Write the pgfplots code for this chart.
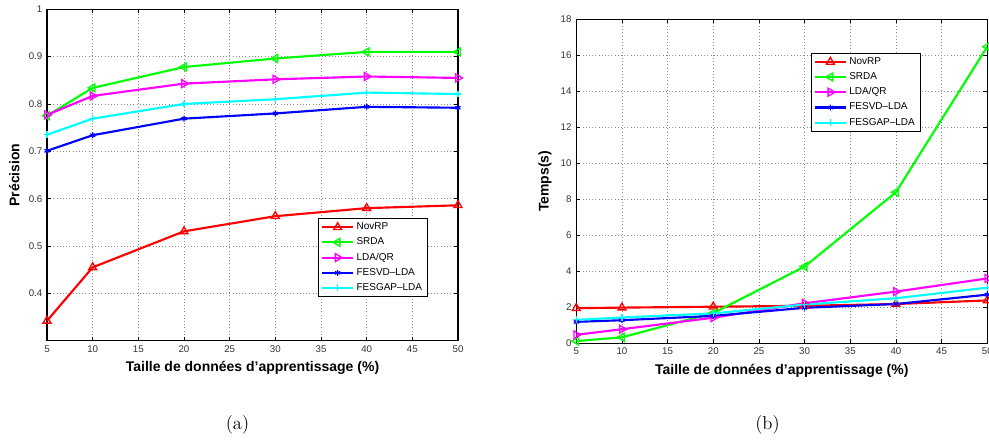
\documentclass[border=0pt]{standalone}
\usepackage{fontspec}
\usepackage{pgfplots}
\usepackage{pgfplotstable}
\pgfplotsset{compat=1.18}
\newfontfamily\hv{Liberation Sans}

\definecolor{mred}{rgb}{1,0,0}
\definecolor{mgreen}{rgb}{0,1,0}
\definecolor{mmagenta}{rgb}{1,0,1}
\definecolor{mblue}{rgb}{0,0,1}
\definecolor{mcyan}{rgb}{0,1,1}

% Precision vs. training size (%)
\pgfplotstableread{
x   NovRP  SRDA   LDAQR  FESVD  FESGAP
5   0.342  0.775  0.777  0.701  0.735
10  0.455  0.834  0.817  0.734  0.769
20  0.531  0.878  0.843  0.769  0.800
30  0.563  0.896  0.852  0.780  0.810
40  0.580  0.910  0.858  0.794  0.824
50  0.586  0.910  0.855  0.792  0.821
}\precisiondata

% Run time (s) vs. training size (%)
\pgfplotstableread{
x   NovRP  SRDA   LDAQR  FESVD  FESGAP
5   1.95   0.12   0.47   1.19   1.30
10  1.98   0.33   0.78   1.28   1.43
20  2.03   1.68   1.42   1.52   1.66
30  2.08   4.26   2.22   1.97   2.15
40  2.18   8.39   2.87   2.18   2.50
50  2.38   16.48  3.60   2.70   3.09
}\tempsdata

\pgfplotsset{
  matlab/.style={
    scale only axis,
    width=308.25pt,
    xmin=5, xmax=50, xtick={5,10,...,50},
    grid=major,
    major grid style={dotted, black!45, line width=0.5pt},
    tick align=inside,
    major tick length=3pt,
    axis line style={line width=0.8pt},
    tick style={black, line width=0.5pt},
    ticklabel style={font=\hv\fontsize{7.3}{8}\selectfont, text=black!80},
    /pgf/number format/assume math mode=true,
    label style={font=\hv\bfseries\fontsize{10.5}{12}\selectfont},
    legend cell align=left,
    legend style={font=\hv\fontsize{7.5}{9}\selectfont, draw=black, line width=0.8pt,
                  inner xsep=2pt, inner ysep=1pt, row sep=0.6pt},
    legend image code/.code={\draw[mark repeat=2,mark phase=2]
        plot coordinates {(0cm,0cm) (0.4cm,0cm) (0.8cm,0cm)};},
  },
  s1/.style={mred,     line width=1.6pt, mark=triangle, mark size=3.4pt, mark options={solid, line width=1pt}},
  s2/.style={mgreen,   line width=1.6pt, mark=triangle, mark size=3.4pt, mark options={solid, line width=1pt, rotate=90}},
  s3/.style={mmagenta, line width=1.6pt, mark=triangle, mark size=3.4pt, mark options={solid, line width=1pt, rotate=-90}},
  s4/.style={mblue,    line width=1.6pt, mark=asterisk, mark size=2.2pt, mark options={solid, line width=0.9pt}},
  s5/.style={mcyan,    line width=1.6pt, mark=+,        mark size=2.6pt, mark options={solid, line width=0.9pt}},
}

\begin{document}
\begin{tikzpicture}
\path[use as bounding box] (0,0) rectangle (741.75pt,330.75pt);

\begin{axis}[matlab,
  at={(35.25pt,75.2pt)}, anchor=south west,
  height=248.6pt,
  ymin=0.3, ymax=1, ytick={0.4,0.5,...,1.0},
  xlabel={Taille de données d’apprentissage (\%)},
  ylabel={Précision},
  legend style={at={(0.927,0.132)}, anchor=south east},
]
\addplot[s1] table[x=x, y=NovRP]  {\precisiondata};
\addplot[s2] table[x=x, y=SRDA]   {\precisiondata};
\addplot[s3] table[x=x, y=LDAQR]  {\precisiondata};
\addplot[s4] table[x=x, y=FESVD]  {\precisiondata};
\addplot[s5] table[x=x, y=FESGAP] {\precisiondata};
\legend{NovRP, SRDA, LDA/QR, FESVD–LDA, FESGAP–LDA}
\end{axis}

\begin{axis}[matlab,
  at={(432.2pt,73.3pt)}, anchor=south west,
  height=243pt,
  ymin=0, ymax=18, ytick={0,2,...,18},
  xlabel={Taille de données d’apprentissage (\%)},
  ylabel={Temps(s)},
  legend style={at={(0.571,0.896)}, anchor=north west},
]
\addplot[s1] table[x=x, y=NovRP]  {\tempsdata};
\addplot[s2] table[x=x, y=SRDA]   {\tempsdata};
\addplot[s3] table[x=x, y=LDAQR]  {\tempsdata};
\addplot[s4] table[x=x, y=FESVD]  {\tempsdata};
\addplot[s5] table[x=x, y=FESGAP] {\tempsdata};
\legend{NovRP, SRDA, LDA/QR, FESVD–LDA, FESGAP–LDA}
\end{axis}

\node at (178.1pt,12pt) {\fontsize{14}{16}\selectfont (a)};
\node at (575.6pt,12pt) {\fontsize{14}{16}\selectfont (b)};
\end{tikzpicture}
\end{document}
